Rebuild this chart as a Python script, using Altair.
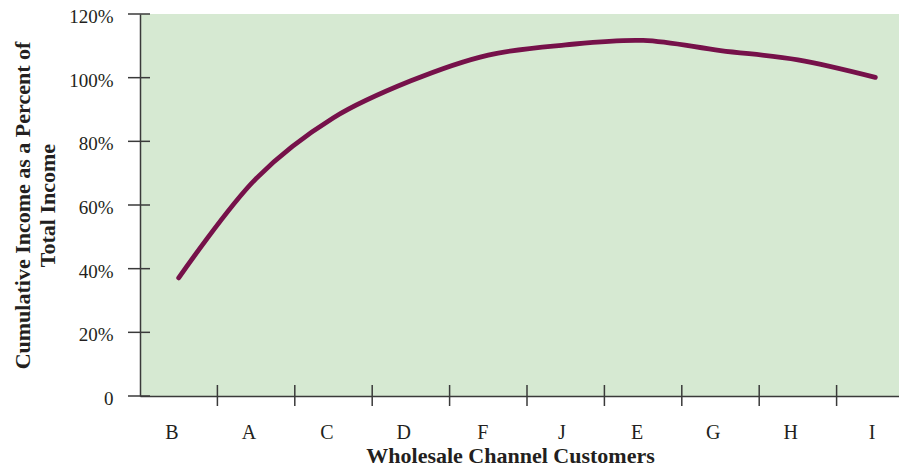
import altair as alt
import pandas as pd

# ---- data ----
customers = ["B", "A", "C", "D", "F", "J", "E", "G", "H", "I"]
cum_income_pct = [37.1, 68.3, 87.4, 99.0, 107.1, 110.3, 111.7, 108.5, 105.6, 100.1]
y_tick_values = [0, 20, 40, 60, 80, 100, 120]
x_tick_customers = customers[1:]  # tick marks sit at the left edge of each band except the first

df = pd.DataFrame({"customer": customers, "pct": cum_income_pct})
ytick_df = pd.DataFrame({"pct": y_tick_values})
xtick_df = pd.DataFrame({"customer": x_tick_customers})

W, H = 774, 382
FONT = "Liberation Serif"
AX = "#3a3a3a"
TXT = "#231f20"
LINE = "#76114a"

xscale = alt.Scale(domain=customers, paddingInner=0, paddingOuter=0)
yscale = alt.Scale(domain=[0, 120], nice=False, zero=True)

x_axis = alt.Axis(
    title="Wholesale Channel Customers",
    labelAngle=0,
    ticks=True,
    tickSize=0,
    labelPadding=36,
    labelFontSize=20,
    domain=True,
    domainColor=AX,
    domainWidth=1.5,
    grid=False,
    titleFontSize=22,
    titleFontWeight="bold",
    titleX=370,
    titleY=66,
    titleAlign="center",
    titleBaseline="alphabetic",
)

y_axis = alt.Axis(
    title=["Cumulative Income as a Percent of", "Total Income"],
    values=y_tick_values,
    labelExpr="datum.value == 0 ? '0' : datum.value + '%'",
    ticks=True,
    tickSize=0,
    labelPadding=27,
    labelOffset=2.5,
    labelFontSize=19,
    domain=True,
    domainColor=AX,
    domainWidth=1.5,
    grid=False,
    titleFontSize=22,
    titleFontWeight="bold",
    titleAngle=270,
    titleX=-110.5,
    titleY=H / 2,
    titleAlign="center",
    titleBaseline="alphabetic",
    titleLineHeight=25,
)

ytick_layer = alt.Chart(ytick_df).mark_rule(color=AX, strokeWidth=1.5).encode(
    y=alt.Y("pct:Q", scale=yscale),
    x=alt.value(-12),
    x2=alt.value(10),
)

xtick_layer = alt.Chart(xtick_df).mark_rule(color=AX, strokeWidth=1.5).encode(
    x=alt.X("customer:N", scale=xscale, bandPosition=0),
    y=alt.value(H - 11),
    y2=alt.value(H + 10),
)

line_layer = alt.Chart(df).mark_line(
    color=LINE, strokeWidth=4.8, strokeCap="round", interpolate="catmull-rom"
).encode(
    x=alt.X("customer:N", scale=xscale, axis=x_axis),
    y=alt.Y("pct:Q", scale=yscale, axis=y_axis),
)

chart = (
    alt.layer(ytick_layer, xtick_layer, line_layer)
    .properties(
        width=W,
        height=H,
        autosize=alt.AutoSizeParams(type="none"),
        padding={"left": 132, "top": 6, "right": -15, "bottom": 69},
    )
    .configure_view(fill="#d6e9d2", stroke=None)
    .configure_axis(
        labelFont=FONT,
        titleFont=FONT,
        labelColor=TXT,
        titleColor=TXT,
    )
)

chart.save("out.html", embed_options={"renderer": "svg", "actions": False})
